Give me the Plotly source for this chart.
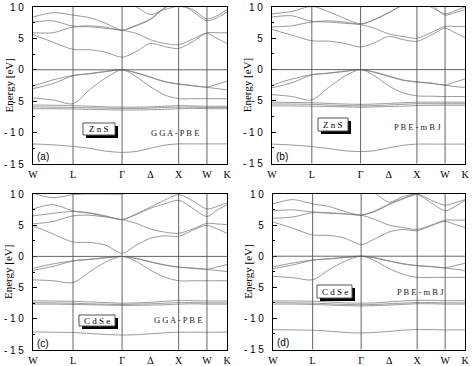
import plotly.graph_objects as go

# k-path sample positions (2pi/a units) and symmetry points
k = [0, 0.354, 0.707, 0.996, 1.284, 1.573, 1.823, 2.073, 2.323, 2.573, 2.823, 3.073, 3.25, 3.427]
sym_pos = [0, 0.707, 1.573, 2.073, 2.573, 3.073, 3.427]
sym_lab = ["W", "L", "Γ", "Δ", "X", "W", "K"]
vlines = [0.707, 1.573, 2.573, 3.073]
y_ticks = [-15, -10, -5, 0, 5, 10]
y_ticktext = ["- 1 5", "- 1 0", "- 5", "0", "5", "1 0"]

# (a) ZnS GGA-PBE
bands_a = [
    [-11.8, -11.95, -12.2, -12.5, -12.95, -13.15, -13.0, -12.5, -12.0, -11.8, -11.8, -11.8, -11.8, -11.8],
    [-5.6, -5.65, -5.7, -5.8, -5.9, -5.95, -5.95, -5.9, -5.8, -5.7, -5.75, -5.8, -5.8, -5.8],
    [-5.9, -5.95, -6.0, -6.05, -6.1, -6.15, -6.15, -6.1, -6.0, -5.95, -5.95, -6.0, -6.0, -6.0],
    [-6.2, -6.2, -6.25, -6.3, -6.35, -6.4, -6.4, -6.35, -6.3, -6.2, -6.15, -6.2, -6.2, -6.2],
    [-4.5, -4.8, -5.4, -3.2, -1.3, 0, -1.1, -2.7, -4.0, -4.6, -4.6, -4.6, -4.6, -4.6],
    [-3.0, -2.2, -0.95, -0.65, -0.3, 0, -0.5, -1.2, -1.9, -2.3, -2.55, -2.8, -3.0, -3.2],
    [-2.6, -1.6, -0.9, -0.6, -0.25, 0, -0.45, -1.15, -1.85, -2.25, -2.5, -2.75, -2.3, -1.8],
    [5.6, 4.4, 3.25, 3.2, 2.8, 2.0, 2.9, 4.2, 3.7, 3.4, 4.5, 5.8, 5.0, 4.2],
    [5.9, 5.9, 6.8, 6.85, 6.6, 6.3, 5.8, 4.8, 4.2, 4.0, 4.9, 5.9, 5.9, 5.9],
    [7.6, 7.8, 6.95, 7.0, 6.8, 6.3, 7.1, 8.1, 9.9, 11.0, 11.5, 11.5, 11.5, 11.5],
    [8.4, 9.1, 8.7, 8.3, 7.4, 6.3, 7.0, 8.0, 9.8, 11.0, 11.5, 11.5, 11.5, 11.5],
    [11.5, 11.5, 11.5, 11.5, 11.5, 11.2, 10.0, 8.8, 9.6, 10.1, 9.6, 8.1, 8.6, 9.6],
    [11.5, 11.5, 11.5, 11.5, 11.5, 11.5, 11.5, 11.3, 11.0, 10.6, 9.3, 7.8, 8.3, 9.2],
]

# (b) ZnS PBE-mBJ
bands_b = [
    [-11.9, -12.05, -12.3, -12.6, -12.95, -13.1, -12.95, -12.5, -12.1, -11.9, -11.9, -11.9, -11.9, -11.9],
    [-5.2, -5.25, -5.3, -5.4, -5.5, -5.55, -5.5, -5.4, -5.3, -5.2, -5.2, -5.2, -5.2, -5.2],
    [-5.5, -5.5, -5.55, -5.65, -5.75, -5.8, -5.75, -5.65, -5.55, -5.45, -5.45, -5.45, -5.45, -5.45],
    [-5.8, -5.8, -5.85, -5.9, -5.95, -6.0, -5.95, -5.9, -5.85, -5.75, -5.7, -5.7, -5.7, -5.7],
    [-4.0, -4.3, -4.85, -2.9, -1.1, 0, -1.0, -2.6, -3.7, -4.2, -4.25, -4.3, -4.3, -4.3],
    [-2.9, -2.1, -0.85, -0.6, -0.3, 0, -0.45, -1.1, -1.7, -2.0, -2.2, -2.5, -2.7, -2.9],
    [-2.5, -1.5, -0.8, -0.55, -0.25, 0, -0.4, -1.0, -1.65, -1.95, -2.15, -2.45, -2.0, -1.5],
    [6.4, 5.5, 4.6, 4.55, 4.2, 3.6, 4.3, 5.3, 4.8, 4.5, 5.5, 6.6, 5.9, 5.1],
    [6.8, 7.0, 7.6, 7.6, 7.4, 7.2, 6.6, 5.7, 5.3, 5.0, 5.9, 6.9, 6.9, 6.9],
    [8.4, 8.6, 7.7, 7.8, 7.6, 7.25, 8.0, 9.1, 10.3, 11.0, 11.5, 11.5, 11.5, 11.5],
    [8.9, 9.3, 10.1, 9.3, 8.2, 7.3, 8.0, 9.1, 10.3, 11.0, 11.5, 11.5, 11.5, 11.5],
    [11.5, 11.5, 11.5, 11.5, 11.5, 11.5, 11.5, 11.5, 11.3, 10.8, 10.0, 8.9, 9.4, 10.0],
    [10.2, 10.1, 10.3, 11.0, 11.5, 11.5, 11.5, 11.5, 11.5, 11.3, 10.4, 8.7, 9.1, 9.6],
]

# (c) CdSe GGA-PBE
bands_c = [
    [-12.1, -12.15, -12.2, -12.35, -12.5, -12.6, -12.55, -12.4, -12.25, -12.15, -12.15, -12.15, -12.15, -12.15],
    [-7.1, -7.15, -7.2, -7.3, -7.4, -7.5, -7.45, -7.35, -7.2, -7.05, -7.1, -7.15, -7.15, -7.15],
    [-7.4, -7.45, -7.5, -7.6, -7.65, -7.7, -7.65, -7.6, -7.5, -7.4, -7.4, -7.45, -7.45, -7.45],
    [-7.65, -7.65, -7.7, -7.75, -7.8, -7.85, -7.85, -7.8, -7.75, -7.65, -7.6, -7.65, -7.65, -7.65],
    [-3.75, -3.9, -4.2, -2.5, -0.9, 0, -0.8, -2.2, -3.3, -3.9, -3.9, -3.9, -3.9, -3.9],
    [-2.25, -1.6, -0.75, -0.5, -0.25, 0, -0.35, -0.9, -1.4, -1.75, -1.9, -2.1, -2.25, -2.4],
    [-1.9, -1.2, -0.7, -0.45, -0.2, 0, -0.3, -0.85, -1.35, -1.7, -1.85, -2.05, -1.7, -1.3],
    [4.9, 3.6, 2.3, 2.25, 1.8, 0.5, 1.8, 2.9, 3.3, 3.2, 4.2, 5.0, 4.4, 3.7],
    [5.2, 5.6, 6.5, 6.6, 6.3, 5.9, 5.3, 4.4, 3.9, 3.7, 4.4, 5.3, 5.2, 5.1],
    [6.5, 6.9, 7.2, 6.9, 6.4, 5.9, 6.7, 7.7, 8.4, 9.0, 7.7, 6.4, 7.4, 8.3],
    [7.6, 8.3, 7.3, 7.0, 6.5, 5.9, 6.8, 7.9, 9.0, 9.9, 8.9, 7.6, 8.0, 8.6],
    [10.1, 9.4, 9.9, 10.0, 10.0, 10.0, 10.5, 11.0, 11.5, 11.5, 11.5, 11.5, 11.5, 11.5],
]

# (d) CdSe PBE-mBJ
bands_d = [
    [-11.8, -11.85, -11.9, -12.05, -12.25, -12.35, -12.25, -12.1, -11.9, -11.8, -11.8, -11.85, -11.85, -11.85],
    [-7.2, -7.2, -7.25, -7.35, -7.5, -7.55, -7.5, -7.35, -7.2, -7.1, -7.1, -7.15, -7.15, -7.15],
    [-7.45, -7.5, -7.55, -7.65, -7.75, -7.8, -7.75, -7.65, -7.55, -7.45, -7.45, -7.5, -7.5, -7.5],
    [-7.7, -7.7, -7.75, -7.85, -7.95, -8.0, -7.95, -7.85, -7.75, -7.65, -7.65, -7.7, -7.7, -7.7],
    [-3.25, -3.45, -3.8, -2.2, -0.8, 0, -0.75, -2.0, -2.9, -3.4, -3.4, -3.4, -3.4, -3.4],
    [-2.0, -1.4, -0.65, -0.45, -0.2, 0, -0.3, -0.8, -1.25, -1.55, -1.7, -1.9, -2.1, -2.3],
    [-1.7, -1.1, -0.6, -0.4, -0.2, 0, -0.25, -0.75, -1.2, -1.5, -1.65, -1.85, -1.5, -1.15],
    [5.5, 4.5, 3.4, 3.35, 2.9, 1.85, 2.8, 3.9, 4.3, 4.1, 4.9, 5.6, 5.1, 4.6],
    [6.1, 6.3, 7.0, 6.9, 6.8, 6.6, 5.9, 5.0, 4.6, 4.3, 5.0, 5.8, 5.8, 5.8],
    [7.3, 7.45, 7.1, 7.0, 6.8, 6.6, 7.3, 8.4, 9.3, 10.0, 9.0, 8.2, 8.6, 9.1],
    [8.4, 9.1, 8.4, 8.0, 7.2, 6.6, 7.2, 8.3, 9.2, 9.9, 8.6, 7.3, 8.0, 9.0],
    [11.5, 11.5, 11.5, 11.5, 11.5, 11.2, 10.1, 8.7, 9.6, 10.1, 11.0, 11.5, 11.5, 11.5],
]

panels = [bands_a, bands_b, bands_c, bands_d]
panel_tags = ["(a)", "(b)", "(c)", "(d)"]
materials = ["Z n S", "Z n S", "C d S e", "C d S e"]
methods = ["G G A - P B E", "P B E - m B J", "G G A - P B E", "P B E - m B J"]

W, H = 474, 366


def px(x):
    return min(1.0, max(0.0, x / W))


def py(y):
    return min(1.0, max(0.0, 1 - y / H))


# pixel boxes of each panel: (left, right, top, bottom)
boxes = [(33, 227, 7, 164), (272, 465, 7, 163.5), (33, 227, 194, 350), (273, 465, 194, 349.5)]
label_boxes = [(83, 115, 123, 135), (318, 348, 118, 131), (79, 115, 315, 326), (317, 352, 285, 298)]
method_pos = [(175, 133), (417, 127), (178, 320), (420, 292)]

fig = go.Figure()
serif = "Liberation Serif, Times New Roman, serif"
sans = "Liberation Sans, Arial, sans-serif"

for i, bands in enumerate(panels):
    n = "" if i == 0 else str(i + 1)
    xa, ya = "x" + n, "y" + n
    for b in bands:
        fig.add_trace(go.Scatter(x=k, y=b, mode="lines", xaxis=xa, yaxis=ya,
                                 line=dict(color="#808080", width=0.8, shape="spline", smoothing=0.8),
                                 showlegend=False, hoverinfo="skip"))
    l, r, t, btm = boxes[i]
    fig.update_layout({
        "xaxis" + n: dict(domain=[px(l), px(r)], range=[0, 3.427], anchor=ya, automargin=False,
                          tickvals=sym_pos, ticktext=sym_lab, ticks="", showgrid=False, zeroline=False,
                          showline=True, mirror=True, linecolor="black", linewidth=1.2,
                          ticklabelstandoff=1,
                          tickfont=dict(family=serif, size=10, color="black")),
        "yaxis" + n: dict(domain=[py(btm), py(t)], range=[-15, 10], anchor=xa, automargin=False,
                          tickvals=y_ticks, ticktext=y_ticktext, ticks="inside", ticklen=4,
                          tickcolor="black", showgrid=False, zeroline=False,
                          showline=True, mirror=True, linecolor="black", linewidth=1.2,
                          ticklabelstandoff=6,
                          minor=dict(ticks="inside", ticklen=2, dtick=2.5, tickcolor="black"),
                          tickfont=dict(family=sans, size=10, color="black")),
    })
    for v in vlines:
        fig.add_shape(type="line", xref=xa, yref=ya + " domain", x0=v, x1=v, y0=0, y1=1,
                      line=dict(color="#555", width=0.9))
    fig.add_shape(type="line", xref=xa + " domain", yref=ya, x0=0, x1=1, y0=0, y1=0,
                  line=dict(color="#555", width=0.9))
    # y-axis title
    fig.add_annotation(text="Energy [eV]", xref="paper", yref="paper",
                       x=px(l - 25), y=py((t + btm) / 2), textangle=-90, showarrow=False,
                       xanchor="center", yanchor="middle",
                       font=dict(family=serif, size=11, color="black"))
    # panel tag
    fig.add_annotation(text=panel_tags[i], xref="paper", yref="paper", x=px(l + 2), y=py(btm - 7),
                       xanchor="left", yanchor="middle", showarrow=False,
                       font=dict(family=sans, size=10, color="black"))
    # material box with shadow
    bl, br, bt, bb = label_boxes[i]
    fig.add_shape(type="rect", xref="paper", yref="paper", x0=px(bl + 3), x1=px(br + 3),
                  y0=py(bb + 3), y1=py(bt + 3), fillcolor="black", line=dict(width=0))
    fig.add_shape(type="rect", xref="paper", yref="paper", x0=px(bl), x1=px(br),
                  y0=py(bb), y1=py(bt), fillcolor="white", line=dict(color="#555", width=1))
    fig.add_annotation(text=materials[i], xref="paper", yref="paper", x=px((bl + br) / 2),
                       y=py((bt + bb) / 2), showarrow=False, xanchor="center", yanchor="middle",
                       font=dict(family=serif, size=9, color="black"))
    mx, my = method_pos[i]
    fig.add_annotation(text=methods[i], xref="paper", yref="paper", x=px(mx), y=py(my),
                       showarrow=False, xanchor="center", yanchor="middle",
                       font=dict(family=serif, size=8.5, color="#222"))

fig.update_layout(width=W, height=H, margin=dict(l=0, r=0, t=0, b=0, autoexpand=False),
                  paper_bgcolor="white", plot_bgcolor="white", showlegend=False)
fig.write_html("out.html", config={"displayModeBar": False},
               post_script="document.body.style.margin='0px';document.body.style.overflow='hidden';")
